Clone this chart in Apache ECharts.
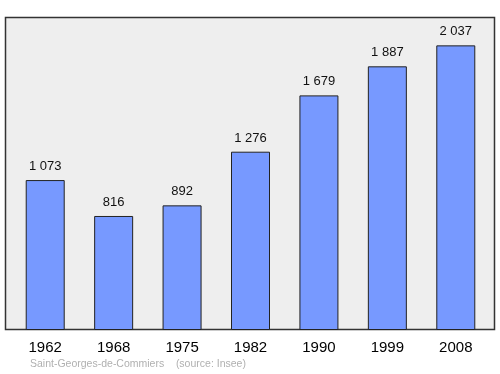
<!DOCTYPE html>
<html><head><meta charset="utf-8">
<script src="https://cdn.jsdelivr.net/npm/echarts@6/dist/echarts.min.js"></script>
<style>html,body{margin:0;padding:0;background:#fff}#c{width:500px;height:374px}</style>
</head><body><div id="c"></div>
<script>
const years = ['1962','1968','1975','1982','1990','1999','2008'];
const population = [1073, 816, 892, 1276, 1679, 1887, 2037];
const footer = 'Saint-Georges-de-Commiers    (source: Insee)';

function fmt(v){ return String(v).replace(/\B(?=(\d{3})+(?!\d))/g, ' '); }

const chart = echarts.init(document.getElementById('c'), null, {renderer:'canvas'});
chart.setOption({
  animation: false,
  graphic: [
    {type:'rect', z:-10, shape:{x:5.5,y:17.5,width:489,height:312}, style:{fill:'#eeeeee', stroke:'#333', lineWidth:1.5}},
    {type:'text', left:30, top:359, style:{text:footer, fill:'#b0b0b0', font:'10.5px "Liberation Sans", Arial, sans-serif'}}
  ],
  grid: {left:11, right:10, top:17, bottom:44, containLabel:false},
  xAxis: {
    type:'category', data: years,
    axisLine:{show:false}, axisTick:{show:false},
    axisLabel:{color:'#000', fontSize:15, fontFamily:'"Liberation Sans", Arial, sans-serif', margin:10}
  },
  yAxis: {type:'value', min:0, max:2240, show:false, splitLine:{show:false}},
  series: [{
    type:'bar', data: population, barWidth:39,
    itemStyle:{color:'#7799ff', borderColor:'#222', borderWidth:1},
    label:{show:true, position:'top', distance:7, color:'#111', fontSize:13,
      fontFamily:'"Liberation Sans", Arial, sans-serif', formatter:p=>fmt(p.value)}
  }]
});
</script></body></html>
